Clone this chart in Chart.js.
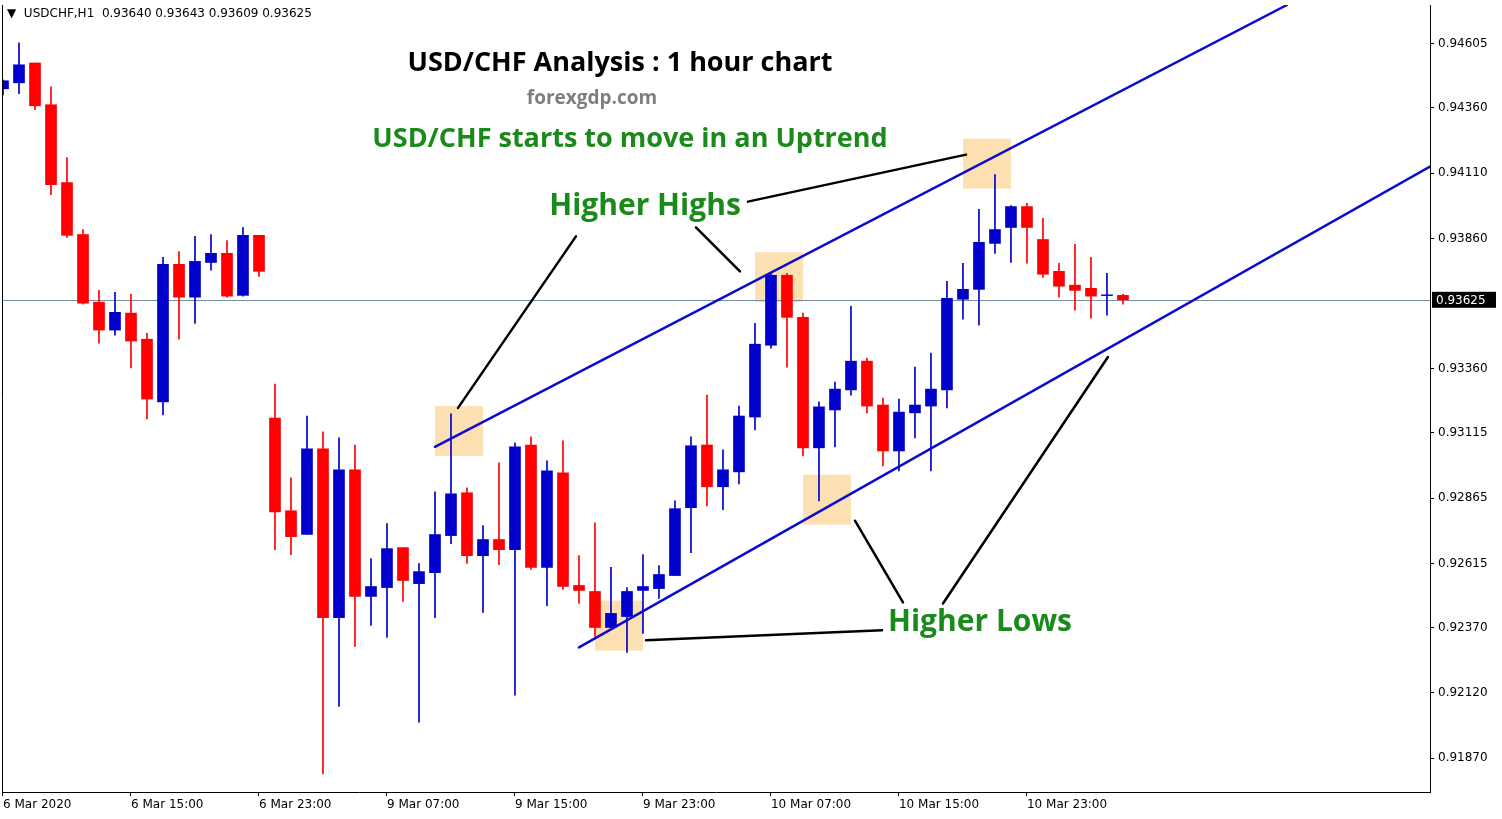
<!DOCTYPE html>
<html><head><meta charset="utf-8">
<script src="https://cdn.jsdelivr.net/npm/chart.js@4"></script>
<style>html,body{margin:0;padding:0;background:#fff;overflow:hidden}#w{width:1502px;height:819px}</style>
</head><body><div id="w"><canvas id="c"></canvas></div>
<script>
const timeLabels = {0:'6 Mar 2020',8:'6 Mar 15:00',16:'6 Mar 23:00',24:'9 Mar 07:00',32:'9 Mar 15:00',40:'9 Mar 23:00',48:'10 Mar 07:00',56:'10 Mar 15:00',64:'10 Mar 23:00'};
const yTicks = [0.94605,0.94360,0.94110,0.93860,0.93360,0.93115,0.92865,0.92615,0.92370,0.92120,0.91870];
const lastPrice = 0.93625;
const opens = [0.94433,0.94456,0.94532,0.94372,0.94074,0.93875,0.93616,0.93509,0.93574,0.93474,0.93234,0.93761,0.93635,0.93768,0.93803,0.93642,0.93872,
0.93172,0.92817,0.92726,0.93054,0.92408,0.92974,0.92489,0.92523,0.92676,0.92538,0.92580,0.92722,0.92886,0.92645,0.92707,0.92668,0.93069,0.92600,0.92962,0.92531,0.92508,0.92370,0.92412,0.92512,0.92519,0.92569,0.92829,0.93069,0.92909,0.92966,0.93176,0.93451,0.93719,0.93558,0.93058,0.93203,0.93280,0.93390,0.93222,0.93046,0.93192,0.93218,0.93280,0.93627,0.93665,0.93841,0.93902,0.93982,0.93856,0.93734,0.93681,0.93669,0.93641,0.93642];
const highs = [0.94467,0.94609,0.94532,0.94441,0.94170,0.93894,0.93661,0.93654,0.93646,0.93497,0.93788,0.93810,0.93868,0.93875,0.93852,0.93902,0.93872,
0.93302,0.92943,0.93180,0.93119,0.93096,0.93069,0.92634,0.92768,0.92676,0.92615,0.92890,0.93188,0.92905,0.92760,0.93001,0.93077,0.93100,0.93008,0.93085,0.92645,0.92771,0.92600,0.92523,0.92649,0.92607,0.92855,0.93100,0.93260,0.93050,0.93218,0.93535,0.93726,0.93726,0.93574,0.93234,0.93310,0.93600,0.93402,0.93249,0.93245,0.93367,0.93421,0.93696,0.93765,0.93971,0.94105,0.93986,0.93994,0.93937,0.93765,0.93837,0.93788,0.93726,0.93646];
const lows = [0.94410,0.94414,0.94353,0.94028,0.93864,0.93608,0.93459,0.93490,0.93364,0.93169,0.93184,0.93474,0.93535,0.93738,0.93635,0.93639,0.93715,
0.92668,0.92649,0.92726,0.91809,0.92068,0.92298,0.92378,0.92332,0.92470,0.92007,0.92408,0.92691,0.92615,0.92428,0.92611,0.92111,0.92592,0.92454,0.92516,0.92462,0.92336,0.92370,0.92275,0.92347,0.92481,0.92569,0.92657,0.92836,0.92821,0.92920,0.93127,0.93440,0.93367,0.93027,0.92855,0.93062,0.93260,0.93192,0.92989,0.92970,0.93096,0.92970,0.93211,0.93551,0.93528,0.93803,0.93768,0.93765,0.93711,0.93635,0.93585,0.93555,0.93566,0.93608];
const closes = [0.94464,0.94525,0.94368,0.94066,0.93872,0.93612,0.93509,0.93577,0.93467,0.93245,0.93761,0.93635,0.93772,0.93803,0.93639,0.93872,0.93734,
0.92813,0.92718,0.93054,0.92408,0.92974,0.92489,0.92527,0.92672,0.92550,0.92584,0.92726,0.92882,0.92645,0.92707,0.92668,0.93062,0.92600,0.92970,0.92527,0.92512,0.92370,0.92424,0.92508,0.92527,0.92573,0.92825,0.93066,0.92909,0.92974,0.93180,0.93455,0.93719,0.93558,0.93058,0.93215,0.93283,0.93390,0.93218,0.93046,0.93195,0.93222,0.93283,0.93631,0.93665,0.93845,0.93894,0.93982,0.93902,0.93723,0.93677,0.93661,0.93639,0.93644,0.93625];
// annotations in data units [index, price]
const channels = [[[27,0.93062],[80.25,0.94754]],[[36,0.92294],[89.19,0.94135]]];
const boxes = [[27,30,0.93218,0.93027],[47,50,0.93807,0.93616],[60,63,0.94242,0.94051],[50,53,0.92955,0.92764],[37,40,0.92473,0.92282]];
const pointers = [[[28.44,0.93211],[35.81,0.93868]],[[43.31,0.93902],[46.06,0.93734]],[[46.56,0.94001],[60.19,0.94181]],[[40.19,0.92321],[54.94,0.92359]],[[53.25,0.92779],[56.25,0.92466]],[[58.75,0.92462],[69.06,0.93406]]];

const UP='#0000cc', DN='#ff0000';
const col = opens.map((o,i)=> closes[i]>=o ? UP : DN);
const bodies = opens.map((o,i)=>({x:i,y:[o,closes[i]]}));
const wicks = opens.map((o,i)=>({x:i,y:[lows[i],highs[i]]}));

const overlay = {
  id:'overlay',
  beforeDatasetsDraw(ch){
    const {ctx,scales:{x,y},chartArea:a}=ch;
    ctx.save();
    ctx.fillStyle='#fde0b2';
    boxes.forEach(b=>{const x1=x.getPixelForValue(b[0]),x2=x.getPixelForValue(b[1]),y1=y.getPixelForValue(b[2]),y2=y.getPixelForValue(b[3]);ctx.fillRect(x1,y1,x2-x1,y2-y1);});
    const ly=Math.round(y.getPixelForValue(lastPrice))+0.5;
    ctx.strokeStyle='#7a8ea3';ctx.lineWidth=1;ctx.beginPath();ctx.moveTo(a.left,ly);ctx.lineTo(a.right,ly);ctx.stroke();
    ctx.restore();
  },
  afterDatasetsDraw(ch){
    const {ctx,scales:{x,y},chartArea:a}=ch;
    ctx.save();
    ctx.beginPath();ctx.rect(a.left,a.top,a.right-a.left,a.bottom-a.top);ctx.clip();
    ctx.lineCap='round';
    ctx.strokeStyle='#0a0ad0';ctx.lineWidth=2.5;
    channels.forEach(l=>{ctx.beginPath();ctx.moveTo(x.getPixelForValue(l[0][0]),y.getPixelForValue(l[0][1]));ctx.lineTo(x.getPixelForValue(l[1][0]),y.getPixelForValue(l[1][1]));ctx.stroke();});
    ctx.strokeStyle='#000';ctx.lineWidth=2.5;
    pointers.forEach(l=>{ctx.beginPath();ctx.moveTo(x.getPixelForValue(l[0][0]),y.getPixelForValue(l[0][1]));ctx.lineTo(x.getPixelForValue(l[1][0]),y.getPixelForValue(l[1][1]));ctx.stroke();});
    ctx.textAlign='center';ctx.textBaseline='middle';
    ctx.fillStyle='#000';ctx.font='bold 27px "Open Sans"';ctx.fillText('USD/CHF Analysis : 1 hour chart',620,63);
    ctx.fillStyle='#7f7f7f';ctx.font='bold 19px "Open Sans"';ctx.fillText('forexgdp.com',592,99);
    ctx.fillStyle='#1a8a1a';ctx.font='bold 27px "Open Sans"';ctx.fillText('USD/CHF starts to move in an Uptrend',630,139);
    ctx.font='bold 30px "Open Sans"';ctx.fillText('Higher Highs',645,206);ctx.fillText('Higher Lows',980,622);
    ctx.restore();
    ctx.save();
    ctx.fillStyle='#000';ctx.font='12px "DejaVu Sans"';ctx.textBaseline='middle';ctx.textAlign='left';
    ctx.fillText('\u25BC  USDCHF,H1  0.93640 0.93643 0.93609 0.93625',7,14);
    ctx.strokeStyle='#000';ctx.lineWidth=1;ctx.beginPath();ctx.moveTo(a.left+0.5,a.top);ctx.lineTo(a.left+0.5,a.bottom);ctx.stroke();
    const ly=y.getPixelForValue(lastPrice);
    ctx.fillStyle='#000';ctx.fillRect(a.right+2,ly-8,64,16);
    ctx.fillStyle='#fff';ctx.fillText(lastPrice.toFixed(5),a.right+6,ly+1);
    ctx.restore();
  }
};

Chart.defaults.font.family='"DejaVu Sans", sans-serif';
Chart.defaults.font.size=12;
Chart.defaults.color='#000';
new Chart(document.getElementById('c'),{
  type:'bar',
  data:{datasets:[
    {data:wicks,backgroundColor:col,barThickness:1,grouped:false,order:2},
    {data:bodies,backgroundColor:col,barThickness:11,grouped:false,order:1}
  ]},
  options:{
    responsive:true,maintainAspectRatio:false,animation:false,devicePixelRatio:1,
    layout:{padding:{left:2,top:5,right:0,bottom:0}},
    plugins:{legend:{display:false},tooltip:{enabled:false}},
    scales:{
      x:{type:'linear',offset:false,min:-0.0625,max:89.19,
        afterBuildTicks(s){s.ticks=Object.keys(timeLabels).map(k=>({value:+k}));},
        afterFit(s){s.height=27;},
        ticks:{autoSkip:false,maxRotation:0,align:'start',padding:2,callback:v=>timeLabels[v]||''},
        grid:{offset:false,drawOnChartArea:false,tickLength:4,color:'#000'},border:{color:'#000'}},
      y:{position:'right',min:0.91740,max:0.94754,
        afterBuildTicks(s){s.ticks=yTicks.map(v=>({value:v}));},
        afterFit(s){s.width=72;s.paddingTop=0;s.paddingBottom=0;},
        ticks:{autoSkip:false,padding:4,callback:v=>v.toFixed(5)},
        grid:{drawOnChartArea:false,tickLength:4,color:'#000'},border:{color:'#000'}}
    }
  },
  plugins:[overlay]
});
</script></body></html>
